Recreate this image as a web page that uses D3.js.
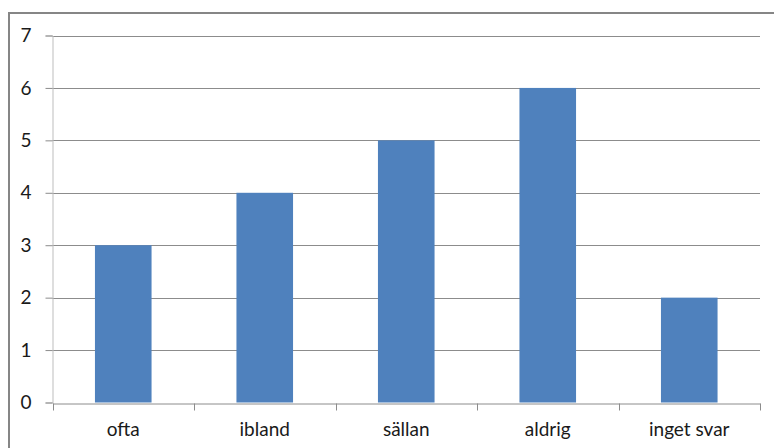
<!DOCTYPE html>
<html><head><meta charset="utf-8">
<script src="https://cdn.jsdelivr.net/npm/d3@7"></script>
<style>html,body{margin:0;padding:0;background:#fff;}svg{display:block;}</style>
</head><body>
<script>
const categories = ["ofta", "ibland", "sällan", "aldrig", "inget svar"];
const values = [3, 4, 5, 6, 2];
const yTicks = [0, 1, 2, 3, 4, 5, 6, 7];

const W = 774, H = 448;
const m = {left: 52.5, right: 14, top: 35.5, bottom: 45.5};
const svg = d3.select("body").append("svg").attr("width", W).attr("height", H);

svg.append("rect").attr("x", 9).attr("y", 13).attr("width", W + 10).attr("height", H + 10)
  .attr("fill", "none").attr("stroke", "#868686").attr("stroke-width", 2);

const x = d3.scaleBand().domain(categories).range([m.left, W - m.right]).paddingInner(0.6).paddingOuter(0.3);
const y = d3.scaleLinear().domain([0, 7]).range([H - m.bottom, m.top]);
const font = "Lato, 'Open Sans', sans-serif";

// gridlines
svg.append("g").selectAll("line").data(yTicks.filter(d => d > 0)).join("line")
  .attr("x1", m.left).attr("x2", W - m.right)
  .attr("y1", d => Math.round(y(d)) + 0.5).attr("y2", d => Math.round(y(d)) + 0.5)
  .attr("stroke", "#8c8c8c").attr("stroke-width", 1);

// bars
svg.append("g").selectAll("rect").data(values).join("rect")
  .attr("x", (d, i) => x(categories[i])).attr("width", x.bandwidth())
  .attr("y", d => y(d)).attr("height", d => y(0) - y(d))
  .attr("fill", "#4f81bd");

// y axis
const ya = svg.append("g").attr("transform", `translate(${m.left},0)`)
  .call(d3.axisLeft(y).tickValues(yTicks).tickSize(7).tickPadding(14).tickFormat(d3.format("d")));
ya.select(".domain").attr("stroke", "#bdbdbd");
ya.selectAll(".tick line").attr("stroke", "#8c8c8c");
ya.selectAll("text").attr("font-family", font).attr("font-size", 19).attr("fill", "#1a1a1a");

// x axis
const xa = svg.append("g").attr("transform", `translate(0,${Math.round(y(0)) + 0.5})`)
  .call(d3.axisBottom(x).tickSize(0).tickPadding(19));
xa.select(".domain").attr("stroke", "#8c8c8c");
xa.selectAll("text").attr("font-family", font).attr("font-size", 19).attr("fill", "#1a1a1a");
// category boundary ticks
const step = x.step();
const bounds = d3.range(categories.length + 1).map(i => m.left + i * (W - m.right - m.left) / categories.length);
xa.append("g").selectAll("line").data(bounds).join("line")
  .attr("x1", d => Math.round(d) + 0.5).attr("x2", d => Math.round(d) + 0.5)
  .attr("y1", 0).attr("y2", 7).attr("stroke", "#8c8c8c");
</script>
</body></html>
